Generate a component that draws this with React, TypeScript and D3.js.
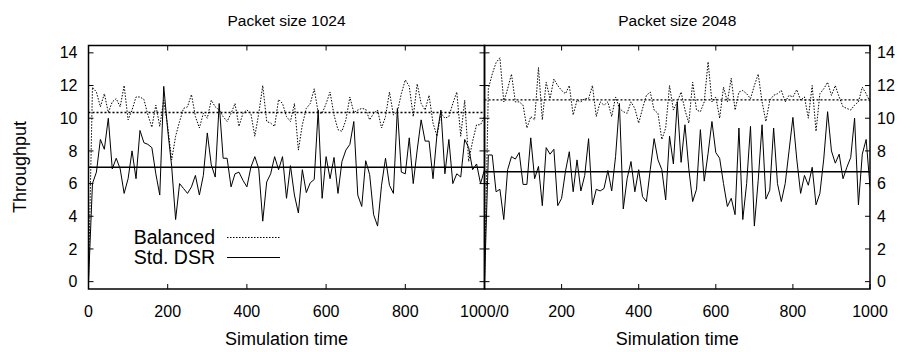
import React, { useEffect, useRef } from 'react'
import * as d3 from 'd3'

const width = 914, height = 352

// sampled every 10 time units, 0..1000
const times = d3.range(0, 1001, 10)

const panelTitles = ["Packet size 1024", "Packet size 2048"]
const xTicks = [0, 200, 400, 600, 800, 1000]
const yTicks = [0, 2, 4, 6, 8, 10, 12, 14]

const balanced1024 = [0, 11.9, 11.6, 10.7, 11.5, 10.35, 11.0, 11.2, 10.7, 12.0,
  9.9, 10.5, 11.3, 11.3, 11.15, 10.2, 9.45, 10.8, 9.5, 11.1,
  9.5, 7.45, 8.9, 9.8, 10.6, 10.7, 11.45, 10.1, 9.4, 10.3,
  10.0, 11.1, 10.7, 10.5, 10.1, 9.8, 10.3, 10.9, 9.5, 10.3,
  10.5, 10.3, 8.9, 10.3, 12.0, 9.8, 9.7, 9.5, 11.15, 10.9,
  10.1, 9.8, 10.9, 8.05, 9.6, 10.6, 10.9, 11.8, 10.35, 10.3,
  10.9, 11.6, 10.2, 9.3, 9.2, 9.9, 11.3, 10.35, 10.5, 10.6,
  10.55, 9.9, 10.3, 10.5, 9.4, 10.1, 11.6, 10.2, 10.4, 11.5,
  12.35, 11.95, 10.1, 12.1, 10.9, 10.5, 11.4, 9.7, 8.9, 10.3,
  10.0, 10.1, 10.9, 11.6, 8.9, 11.1, 7.35, 8.6, 9.6, 9.6,
  10.1]

const dsr1024 = [0, 6.0, 6.7, 8.7, 8.1, 10.0, 6.9, 7.55, 6.9, 5.4,
  6.3, 8.0, 6.3, 9.25, 8.5, 8.4, 8.2, 6.6, 5.3, 11.95,
  9.3, 7.05, 3.8, 6.0, 5.7, 5.4, 5.8, 6.5, 5.3, 6.5,
  9.1, 7.15, 6.4, 10.9, 7.55, 7.55, 5.8, 6.6, 6.7, 6.2,
  5.8, 7.0, 7.65, 6.9, 3.7, 6.1, 6.6, 7.65, 6.85, 7.65,
  5.1, 7.1, 5.3, 4.2, 6.85, 5.45, 6.05, 6.25, 10.5, 5.1,
  7.65, 6.3, 7.6, 5.4, 7.35, 8.05, 8.4, 9.8, 5.3, 4.6,
  7.4, 6.55, 4.1, 3.4, 5.9, 7.55, 5.9, 5.4, 10.6, 6.7,
  6.6, 8.8, 6.0, 8.05, 9.9, 8.6, 8.6, 6.3, 9.0, 10.5,
  6.6, 8.7, 6.0, 6.6, 6.4, 8.7, 8.2, 6.85, 7.2, 6.0,
  6.85]

const balanced2048 = [0, 11.8, 12.7, 13.4, 13.7, 11.0, 11.8, 12.7, 11.0, 11.0,
  10.8, 9.4, 10.1, 9.9, 13.1, 9.9, 12.2, 11.2, 12.4, 12.0,
  11.7, 11.5, 12.0, 10.2, 11.1, 11.0, 11.2, 11.2, 12.0, 10.1,
  11.0, 10.8, 11.0, 10.1, 11.3, 10.6, 10.4, 10.3, 11.0, 10.6,
  9.7, 10.6, 11.4, 11.6, 10.5, 10.3, 8.7, 9.4, 12.0, 10.5,
  11.0, 11.6, 10.5, 9.7, 12.2, 10.5, 10.4, 11.0, 13.45, 11.0,
  11.3, 10.0, 11.9, 11.0, 12.45, 10.5, 11.6, 11.7, 11.5, 11.2,
  12.0, 12.7, 11.0, 9.8, 11.1, 11.4, 11.5, 11.7, 11.0, 11.4,
  11.3, 11.75, 11.1, 11.3, 10.0, 12.0, 9.2, 11.5, 11.8, 12.2,
  11.4, 12.0, 11.3, 10.7, 10.6, 10.5, 10.8, 11.0, 11.9, 11.5,
  11.0]

const dsr2048 = [0, 7.75, 7.75, 5.5, 5.65, 3.8, 6.85, 7.65, 7.5, 7.9,
  5.95, 5.95, 8.8, 6.3, 7.05, 4.65, 8.2, 7.8, 8.1, 4.65,
  5.1, 6.75, 7.95, 5.5, 7.45, 5.55, 6.5, 8.75, 4.7, 5.65,
  5.55, 5.7, 6.8, 5.55, 7.65, 10.9, 4.45, 6.3, 7.35, 5.5,
  6.85, 5.2, 4.9, 6.85, 8.75, 7.45, 6.85, 5.0, 8.9, 7.2,
  11.0, 7.3, 9.6, 6.9, 4.9, 5.65, 9.3, 6.15, 7.85, 9.8,
  7.9, 7.55, 6.0, 4.6, 5.1, 4.1, 9.4, 3.8, 6.0, 9.5,
  3.4, 6.2, 9.6, 5.05, 5.6, 9.4, 6.0, 4.9, 6.0, 8.0,
  10.05, 7.5, 5.4, 6.5, 5.9, 7.0, 4.7, 5.4, 7.5, 10.4,
  8.0, 7.25, 7.8, 6.3, 7.0, 7.6, 10.0, 4.7, 7.8, 8.7,
  5.8]

// average levels drawn as horizontal reference lines
const balancedMean = [10.35, 11.12]
const dsrMean = [7.0, 6.73]

const font = "'Liberation Sans', Arial, Helvetica, sans-serif"

export default function App() {
  const ref = useRef<SVGSVGElement>(null)

  useEffect(() => {
    const svg = d3.select(ref.current)
    svg.selectAll("*").remove()

    const y = d3.scaleLinear().domain([-0.45, 14.45]).range([289, 45.5])
    const panels = [
      { x: d3.scaleLinear().domain([0, 1000]).range([88.5, 484.5]), bal: balanced1024, dsr: dsr1024 },
      { x: d3.scaleLinear().domain([0, 1000]).range([484.5, 870]), bal: balanced2048, dsr: dsr2048 },
    ]
    const tick = 5

    panels.forEach((p, i) => {
      const [x0, x1] = p.x.range()
      const [yb, yt] = y.range()
      const g = svg.append("g")

      g.append("clipPath").attr("id", `clip${i}`)
        .append("rect").attr("x", x0).attr("y", yt).attr("width", x1 - x0).attr("height", yb - yt)

      const plot = g.append("g").attr("clip-path", `url(#clip${i})`)

      // mean lines
      plot.append("line")
        .attr("x1", x0).attr("x2", x1)
        .attr("y1", y(balancedMean[i])).attr("y2", y(balancedMean[i]))
        .attr("stroke", "#000").attr("stroke-width", 1.3).attr("stroke-dasharray", "2,2")
      plot.append("line")
        .attr("x1", x0).attr("x2", x1)
        .attr("y1", y(dsrMean[i])).attr("y2", y(dsrMean[i]))
        .attr("stroke", "#000").attr("stroke-width", 1.5)

      const line = d3.line<number>().x((_, j) => p.x(times[j])).y(d => y(d))

      plot.append("path").datum(p.bal)
        .attr("d", line).attr("fill", "none")
        .attr("stroke", "#000").attr("stroke-width", 1).attr("stroke-dasharray", "1.5,1.5")
      plot.append("path").datum(p.dsr)
        .attr("d", line).attr("fill", "none")
        .attr("stroke", "#000").attr("stroke-width", 1)

      // ticks on all four sides
      xTicks.forEach(t => {
        g.append("line").attr("x1", p.x(t)).attr("x2", p.x(t)).attr("y1", yb).attr("y2", yb - tick).attr("stroke", "#000")
        g.append("line").attr("x1", p.x(t)).attr("x2", p.x(t)).attr("y1", yt).attr("y2", yt + tick).attr("stroke", "#000")
      })
      yTicks.forEach(t => {
        g.append("line").attr("x1", x0).attr("x2", x0 + tick).attr("y1", y(t)).attr("y2", y(t)).attr("stroke", "#000")
        g.append("line").attr("x1", x1).attr("x2", x1 - tick).attr("y1", y(t)).attr("y2", y(t)).attr("stroke", "#000")
      })

      g.append("rect")
        .attr("x", x0).attr("y", yt).attr("width", x1 - x0).attr("height", yb - yt)
        .attr("fill", "none").attr("stroke", "#000").attr("stroke-width", 1.5)

      // x tick labels
      xTicks.forEach(t => {
        let label = String(t)
        if (i === 0 && t === 1000) label = "1000/0"
        if (i === 1 && t === 0) return
        g.append("text")
          .attr("x", p.x(t)).attr("y", 317)
          .attr("text-anchor", "middle")
          .style("font-size", "16px").style("font-family", font)
          .text(label)
      })

      // y tick labels, outer sides only
      yTicks.forEach(t => {
        g.append("text")
          .attr("x", i === 0 ? x0 - 11 : x1 + 7).attr("y", y(t))
          .attr("dy", "0.35em")
          .attr("text-anchor", i === 0 ? "end" : "start")
          .style("font-size", "16px").style("font-family", font)
          .text(t)
      })

      g.append("text")
        .attr("x", (x0 + x1) / 2).attr("y", 345)
        .attr("text-anchor", "middle")
        .style("font-size", "18px").style("font-family", font)
        .text("Simulation time")

      g.append("text")
        .attr("x", (x0 + x1) / 2).attr("y", 26)
        .attr("text-anchor", "middle")
        .style("font-size", "15.5px").style("font-family", font)
        .text(panelTitles[i])
    })

    svg.append("text")
      .attr("transform", "translate(26,167) rotate(-90)")
      .attr("text-anchor", "middle")
      .style("font-size", "18px").style("font-family", font)
      .text("Throughput")

    // legend
    const legend = [
      { name: "Balanced", dash: "1.5,1.5", ly: 237.5 },
      { name: "Std. DSR", dash: null, ly: 257.5 },
    ]
    legend.forEach(l => {
      svg.append("text")
        .attr("x", 215).attr("y", l.ly).attr("dy", "0.35em")
        .attr("text-anchor", "end")
        .style("font-size", "19.5px").style("font-family", font)
        .text(l.name)
      svg.append("line")
        .attr("x1", 227).attr("x2", 280).attr("y1", l.ly).attr("y2", l.ly)
        .attr("stroke", "#000").attr("stroke-width", 1)
        .attr("stroke-dasharray", l.dash)
    })
  }, [])

  return (
    <svg ref={ref} width={width} height={height}
      style={{ position: "absolute", left: 0, top: 0, background: "#fff" }} />
  )
}
